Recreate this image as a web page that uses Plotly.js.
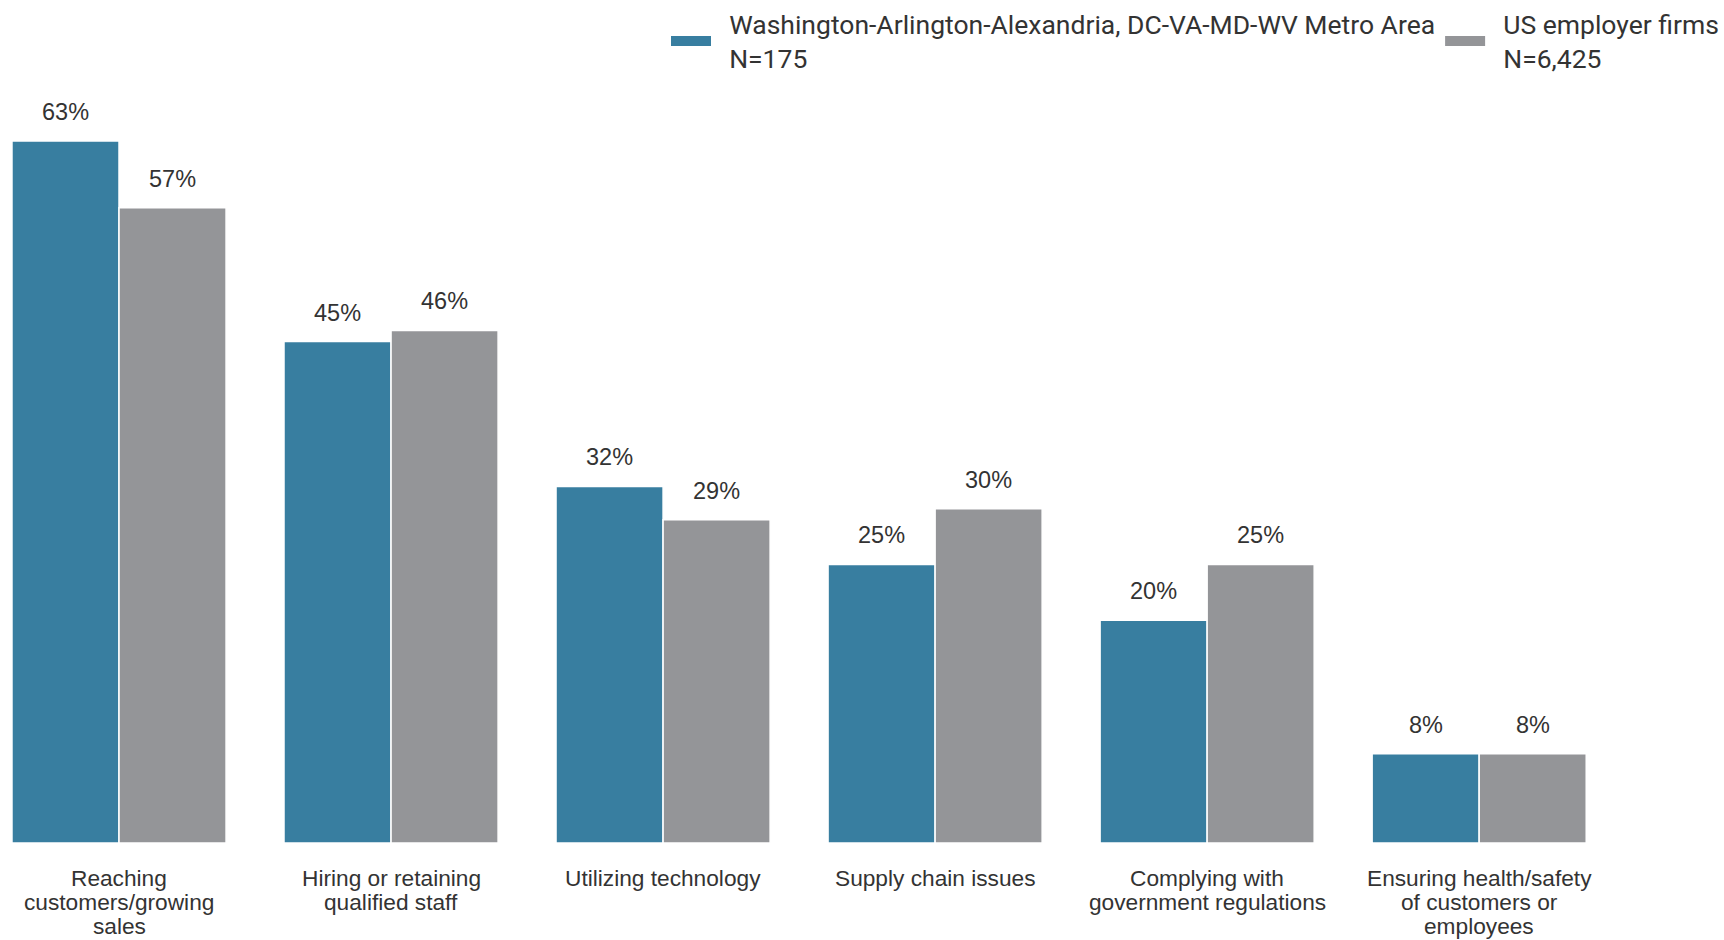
<!DOCTYPE html>
<html>
<head>
<meta charset="utf-8">
<script src="https://cdn.plot.ly/plotly-3.0.1.min.js"></script>
<style>html,body{margin:0;padding:0;background:#fff;}#chart{width:1724px;height:940px;}</style>
</head>
<body>
<div id="chart"></div>
<script>
const categories = [
  "Reaching<br>customers/growing<br>sales",
  "Hiring or retaining<br>qualified staff",
  "Utilizing technology",
  "Supply chain issues",
  "Complying with<br>government regulations",
  "Ensuring health/safety<br>of customers or<br>employees"
];
const seriesNames = [
  "Washington-Arlington-Alexandria, DC-VA-MD-WV Metro Area<br>N=175",
  "US employer firms<br>N=6,425"
];
const metroValues = [63, 45, 32, 25, 20, 8];
const usValues = [57, 46, 29, 30, 25, 8];
const colors = ["#387ea0", "#949598"];

const bargap = 0.213;
const barW = (1 - bargap) / 2;
const idx = categories.map((_, i) => i);
const allSeries = [metroValues, usValues];
const labelFont = "Liberation Sans, Arial, sans-serif";
const pad = "\u00a0\u00a0";

const traces = allSeries.map((vals, k) => ({
  type: "bar",
  name: seriesNames[k],
  x: idx,
  y: vals,
  showlegend: false,
  marker: {color: colors[k], line: {color: "#ffffff", width: 1.5}},
  hoverinfo: "skip"
}));
// legend entries (wide swatches)
allSeries.forEach((vals, k) => {
  traces.push({
    type: "scatter", mode: "lines",
    name: seriesNames[k].split("<br>").map(s => pad + s).join("<br>"),
    x: [null], y: [null],
    line: {color: colors[k], width: 11},
    showlegend: true, hoverinfo: "skip"
  });
});

const annotations = [];
allSeries.forEach((vals, k) => {
  vals.forEach((v, i) => {
    annotations.push({
      x: i + (k - 0.5) * barW,
      y: v,
      xref: "x", yref: "y",
      text: v + "%",
      showarrow: false,
      yanchor: "bottom",
      yshift: 14,
      font: {family: labelFont, size: 23.5, color: "#333333"}
    });
  });
});
// category labels, one annotation per line for tight line spacing
categories.forEach((c, i) => {
  c.split("<br>").forEach((line, j) => {
    annotations.push({
      x: i, y: 0, xref: "x", yref: "paper",
      text: line, showarrow: false,
      yanchor: "middle", yshift: -35 - 24 * j,
      font: {family: labelFont, size: 22.7, color: "#333333"}
    });
  });
});

const layout = {
  width: 1724, height: 940,
  margin: {l: 0, r: 0, t: 63, b: 97, autoexpand: false},
  paper_bgcolor: "#ffffff",
  plot_bgcolor: "#ffffff",
  barmode: "group",
  bargap: bargap,
  bargroupgap: 0,
  font: {family: "Roboto, sans-serif", color: "#333333"},
  xaxis: {
    type: "linear",
    range: [-0.4375, 5.90],
    showticklabels: false,
    showgrid: false, zeroline: false, showline: false, ticks: ""
  },
  yaxis: {
    range: [0, 70],
    visible: false, showgrid: false, zeroline: false
  },
  showlegend: true,
  legend: {
    orientation: "h",
    xref: "container", yref: "container",
    x: 1, xanchor: "right",
    y: 1, yanchor: "top",
    font: {family: "Roboto, sans-serif", size: 26.5, color: "#333333"},
    itemwidth: 40,
    traceorder: "normal",
    tracegroupgap: 0
  },
  annotations: annotations
};

Plotly.newPlot("chart", traces, layout, {displayModeBar: false, staticPlot: true});
</script>
</body>
</html>
